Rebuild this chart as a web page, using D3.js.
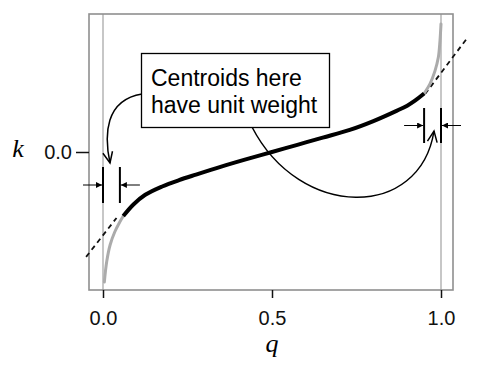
<!DOCTYPE html>
<html>
<head>
<meta charset="utf-8">
<script src="https://cdn.jsdelivr.net/npm/d3@7"></script>
<style>
    html, body { margin: 0; padding: 0; background: #fff; }
    svg { display: block; }
    .tick text { font-family: "Liberation Sans", Arial, Helvetica, sans-serif; font-size: 20px; fill: #111; }
    .tick line { stroke: #111; stroke-width: 1.5; }
</style>
</head>
<body>
<div class="graph"></div>
<script>
"use strict";

// curve: scale value k against quantile q
var qVals = [0.004, 0.011, 0.021, 0.035, 0.05, 0.06, 0.09, 0.125, 0.175, 0.225, 0.275, 0.35, 0.425,
    0.5, 0.575, 0.65, 0.73, 0.80, 0.87, 0.90, 0.923, 0.95, 0.967, 0.982, 0.992, 0.997, 1.0];
var kVals = [-4.71, -3.97, -3.37, -2.89, -2.53, -2.32, -1.90, -1.55, -1.25, -1.02, -0.82, -0.53, -0.26,
    0, 0.26, 0.52, 0.80, 1.12, 1.50, 1.68, 1.86, 2.12, 2.46, 2.93, 3.42, 4.03, 4.64];

// unit-weight zones (gray part of the curve)
var lowCut = 0.06;
var highCut = 0.95;

// dashed tangents near both ends
var dashLowQ = [-0.05, 0.04];
var dashLowK = [-3.80, -2.39];
var dashHighQ = [0.953, 1.08];
var dashHighK = [2.10, 4.17];

// bracket positions (q) marking the end intervals
var bracketLow = [0, 0.05];
var bracketHigh = [0.95, 1.0];

var qTicks = [0, 0.5, 1];
var kTicks = [0];
var noteLines = ["Centroids here", "have unit weight"];

var width = 485;
var height = 371;
var frame = { left: 89, right: 453, top: 14, bottom: 290 };

var svg = d3.select(".graph").append("svg").attr("width", width).attr("height", height);

var xScale = d3.scaleLinear().domain([0, 1]).range([103, 441]);
var yScale = d3.scaleLinear().domain([-5, 5]).range([frame.bottom, frame.top]);

var points = qVals.map(function (q, i) {
    return { q: q, k: kVals[i] };
});

var line = d3.line().x(function (d) {
    return xScale(d.q);
}).y(function (d) {
    return yScale(d.k);
}).curve(d3.curveCatmullRom.alpha(0.5));

// frame
svg.append("rect").attr("x", frame.left).attr("y", frame.top)
    .attr("width", frame.right - frame.left).attr("height", frame.bottom - frame.top)
    .attr("fill", "none").attr("stroke", "#8f8f8f").attr("stroke-width", 1.6);

// thin guides at q = 0 and q = 1
svg.selectAll(".guide").data([0, 1]).enter().append("line").attr("class", "guide")
    .attr("x1", xScale).attr("x2", xScale)
    .attr("y1", frame.top).attr("y2", frame.bottom)
    .attr("stroke", "#8f8f8f").attr("stroke-width", 1);

// dashed tangents
[[dashLowQ, dashLowK], [dashHighQ, dashHighK]].forEach(function (pair) {
    svg.append("line")
        .attr("x1", xScale(pair[0][0])).attr("y1", yScale(pair[1][0]))
        .attr("x2", xScale(pair[0][1])).attr("y2", yScale(pair[1][1]))
        .attr("stroke", "#111").attr("stroke-width", 1.8).attr("stroke-dasharray", "5,4");
});

// gray ends, black middle
var lowPart = points.filter(function (d) { return d.q <= lowCut; });
var midPart = points.filter(function (d) { return d.q >= lowCut && d.q <= highCut; });
var highPart = points.filter(function (d) { return d.q >= highCut; });

[lowPart, highPart].forEach(function (part) {
    svg.append("path").attr("d", line(part)).attr("fill", "none")
        .attr("stroke", "#ababab").attr("stroke-width", 3).attr("stroke-linecap", "round");
});
svg.append("path").attr("d", line(midPart)).attr("fill", "none")
    .attr("stroke", "#000").attr("stroke-width", 4).attr("stroke-linecap", "butt");

// small filled arrowhead marker
svg.append("defs").append("marker").attr("id", "tri")
    .attr("viewBox", "0 0 10 10").attr("refX", 10).attr("refY", 5)
    .attr("markerWidth", 7).attr("markerHeight", 6).attr("markerUnits", "userSpaceOnUse")
    .attr("orient", "auto")
    .append("path").attr("d", "M0,0 L10,5 L0,10 Z").attr("fill", "#000");

function drawBracket(qs, y0, y1) {
    var xa = xScale(qs[0]);
    var xb = xScale(qs[1]);
    var ym = (y0 + y1) / 2;
    svg.append("line").attr("x1", xa).attr("x2", xa).attr("y1", y0).attr("y2", y1)
        .attr("stroke", "#000").attr("stroke-width", 2);
    svg.append("line").attr("x1", xb).attr("x2", xb).attr("y1", y0).attr("y2", y1)
        .attr("stroke", "#000").attr("stroke-width", 2);
    svg.append("line").attr("x1", xa - 20).attr("x2", xa - 1).attr("y1", ym).attr("y2", ym)
        .attr("stroke", "#000").attr("stroke-width", 1).attr("marker-end", "url(#tri)");
    svg.append("line").attr("x1", xb + 20).attr("x2", xb + 1).attr("y1", ym).attr("y2", ym)
        .attr("stroke", "#000").attr("stroke-width", 1).attr("marker-end", "url(#tri)");
}
drawBracket(bracketLow, 167, 203);
drawBracket(bracketHigh, 108, 143);

// curved callout arrows with open heads
function drawCallout(p0, c1, c2, p1) {
    var path = d3.path();
    path.moveTo(p0[0], p0[1]);
    path.bezierCurveTo(c1[0], c1[1], c2[0], c2[1], p1[0], p1[1]);
    svg.append("path").attr("d", path.toString()).attr("fill", "none")
        .attr("stroke", "#000").attr("stroke-width", 1.5);
    var ang = Math.atan2(p1[1] - c2[1], p1[0] - c2[0]);
    var len = 12;
    var spread = 0.42;
    var head = d3.path();
    head.moveTo(p1[0] - len * Math.cos(ang - spread), p1[1] - len * Math.sin(ang - spread));
    head.lineTo(p1[0], p1[1]);
    head.lineTo(p1[0] - len * Math.cos(ang + spread), p1[1] - len * Math.sin(ang + spread));
    svg.append("path").attr("d", head.toString()).attr("fill", "none")
        .attr("stroke", "#000").attr("stroke-width", 1.5).attr("stroke-linejoin", "miter");
}
drawCallout([142, 94], [105, 100], [104, 135], [110, 163]);
drawCallout([252, 127], [300, 220], [420, 220], [434, 131]);

// note box
svg.append("rect").attr("x", 141.5).attr("y", 53.5).attr("width", 188).attr("height", 74)
    .attr("fill", "#fff").attr("stroke", "#000").attr("stroke-width", 1.3);
svg.selectAll(".note").data(noteLines).enter().append("text").attr("class", "note")
    .attr("x", 151).attr("y", function (_, i) {
        return 86 + i * 27;
    })
    .attr("font-family", "'Liberation Sans', Arial, Helvetica, sans-serif")
    .attr("font-size", 23).attr("fill", "#000")
    .text(function (d) {
        return d;
    });

// axes
var xAxis = svg.append("g").attr("transform", "translate(0," + frame.bottom + ")")
    .call(d3.axisBottom(xScale).tickValues(qTicks).tickFormat(d3.format(".1f")).tickSize(8).tickPadding(13));
xAxis.select(".domain").remove();

var yAxis = svg.append("g").attr("transform", "translate(" + frame.left + ",0)")
    .call(d3.axisLeft(yScale).tickValues(kTicks).tickFormat(d3.format(".1f")).tickSize(13).tickPadding(4));
yAxis.select(".domain").remove();

// axis titles
svg.append("text").attr("x", xScale(0.5)).attr("y", 352).attr("text-anchor", "middle")
    .attr("font-family", "'Liberation Serif', 'Times New Roman', serif").attr("font-style", "italic")
    .attr("font-size", 26).attr("fill", "#000").text("q");
svg.append("text").attr("x", 18).attr("y", 157).attr("text-anchor", "middle")
    .attr("font-family", "'Liberation Serif', 'Times New Roman', serif").attr("font-style", "italic")
    .attr("font-size", 26).attr("fill", "#000").text("k");
</script>
</body>
</html>
